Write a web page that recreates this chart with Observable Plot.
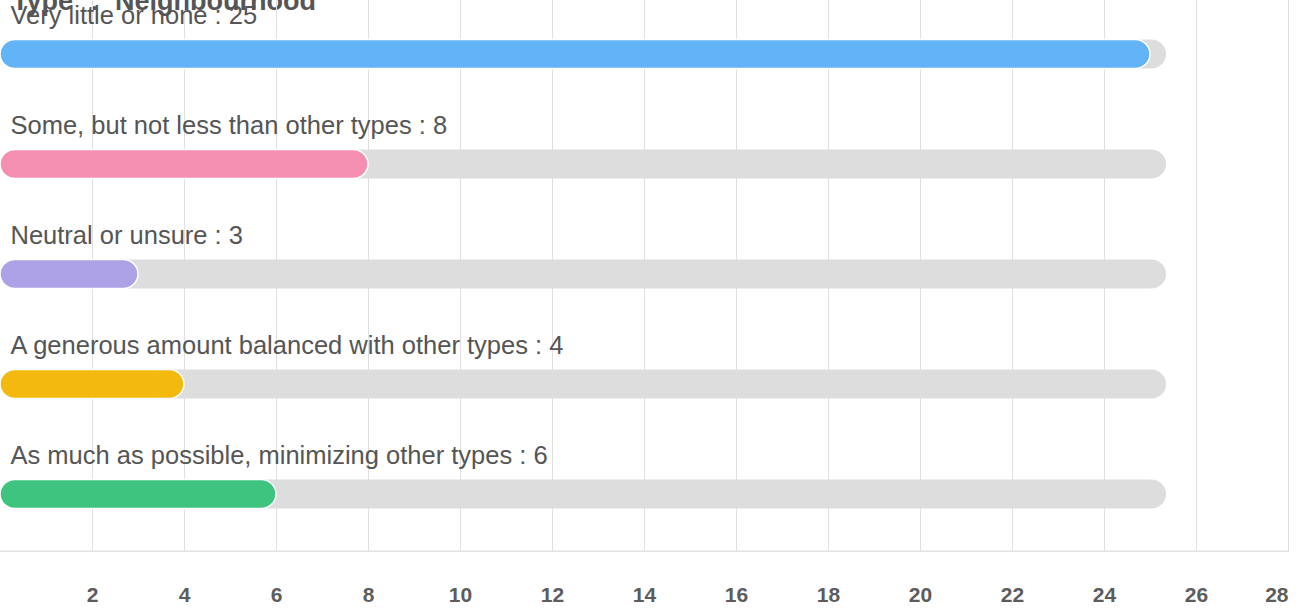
<!DOCTYPE html>
<html>
<head>
<meta charset="utf-8">
<script src="https://cdn.jsdelivr.net/npm/d3@7"></script>
<script src="https://cdn.jsdelivr.net/npm/@observablehq/plot@0.6"></script>
<style>
  html, body { margin: 0; padding: 0; background: #ffffff; overflow: hidden; }
  #wrap { position: relative; width: 1300px; height: 609px; font-family: "Liberation Sans", Arial, Helvetica, sans-serif; }
  #title { position: absolute; left: 12px; top: -12px; font-size: 27px; line-height: 27px; font-weight: bold; color: #555555; white-space: nowrap; word-spacing: 9px; z-index: 0; }
  #chart { position: absolute; left: 0; top: 0; z-index: 1; }
</style>
</head>
<body>
<div id="wrap">
  <div id="title">Type : Neighbourhood</div>
  <div id="chart"></div>
</div>
<script>
// Answer options and their response counts
const categories = [
  "Very little or none",
  "Some, but not less than other types",
  "Neutral or unsure",
  "A generous amount balanced with other types",
  "As much as possible, minimizing other types"
];
const counts = [25, 8, 3, 4, 6];
const barColors = ["#63b4f6", "#f48fb1", "#ada2e6", "#f4b90f", "#3ec47f"];

// Grey background track extends slightly past the largest count
const trackEnd = 25.35;

// Axis ticks
const tickValues = [2, 4, 6, 8, 10, 12, 14, 16, 18, 20, 22, 24, 26, 28];
const xMax = 28;

const rows = categories.map((c, i) => ({category: c, value: counts[i], color: barColors[i]}));

const barHeight = 30;
const step = 110.76;
const inset = (step - barHeight) / 2;

const tickStyle = {
  frameAnchor: "bottom",
  lineAnchor: "top",
  dy: 35,
  fontSize: 21,
  fontWeight: "bold",
  fill: "#5c5c5c"
};

const chart = Plot.plot({
  width: 1300,
  height: 609,
  marginLeft: 0,
  marginRight: 12,
  marginTop: 0,
  marginBottom: 57,
  style: {fontFamily: "'Liberation Sans', Arial, Helvetica, sans-serif", background: "transparent"},
  x: {domain: [0, xMax], axis: null},
  y: {type: "band", domain: categories, range: [-2.4, 551.4], padding: 0, axis: null},
  marks: [
    Plot.gridX(tickValues, {stroke: "#e0e0e0", strokeOpacity: 1, strokeWidth: 1}),
    // baseline along the bottom of the plotting area
    Plot.rect([null], {x1: 0, x2: xMax, insetTop: 550.5, fill: "#e2e2e2"}),
    Plot.barX(rows, {x1: 0, x2: () => trackEnd, y: "category", fill: "#dddddd", rx: 15, insetTop: inset, insetBottom: inset}),
    Plot.barX(rows, {x1: 0, x2: "value", y: "category", fill: "color", stroke: "#ffffff", strokeWidth: 1.5, rx: 15, insetTop: inset, insetBottom: inset}),
    Plot.text(rows, {
      y: "category",
      frameAnchor: "left",
      text: d => `${d.category} : ${d.value}`,
      textAnchor: "start",
      dx: 10,
      dy: -38.7,
      fontSize: 25.5,
      fill: "#555555"
    }),
    // tick labels; the last one is right-aligned so it stays inside the chart
    Plot.text(tickValues.slice(0, -1), {x: d => d, text: d => String(d), textAnchor: "middle", ...tickStyle}),
    Plot.text(tickValues.slice(-1), {x: d => d, text: d => String(d), textAnchor: "end", ...tickStyle})
  ]
});

document.getElementById("chart").appendChild(chart);
</script>
</body>
</html>
